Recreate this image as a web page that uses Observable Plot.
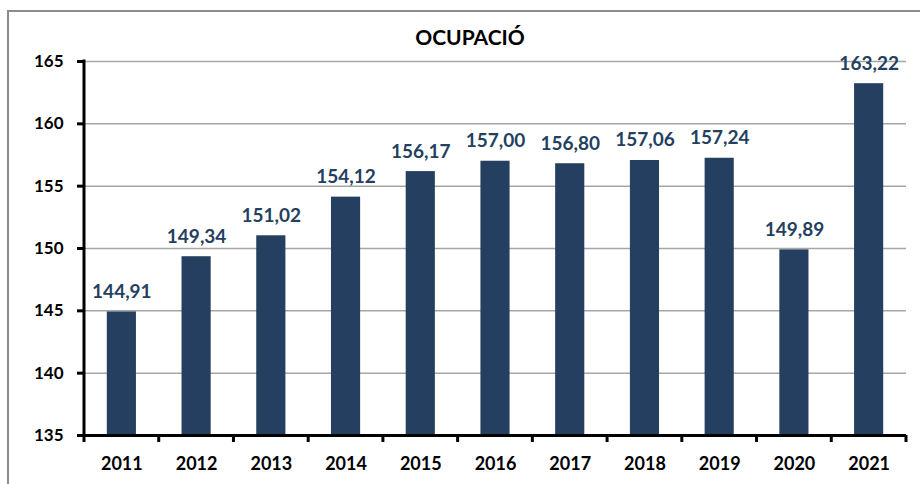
<!DOCTYPE html>
<html><head><meta charset="utf-8">
<script src="https://cdn.jsdelivr.net/npm/d3@7"></script>
<script src="https://cdn.jsdelivr.net/npm/@observablehq/plot@0.6"></script>
<style>
body{margin:0;background:#fff;}
#wrap{position:relative;width:920px;height:484px;overflow:hidden;font-family:Lato,"Noto Sans",sans-serif;}
#frame{position:absolute;left:7px;top:10px;width:1000px;height:1000px;border:2px solid #8c8c8c;}
#title{position:relative;box-sizing:border-box;width:920px;padding-left:20px;padding-top:24px;height:50px;line-height:26px;text-align:center;font-weight:bold;font-size:21px;color:#000;}
#chart{position:relative;}
</style></head>
<body>
<div id="wrap">
  <div id="frame"></div>
  <div id="title">OCUPACIÓ</div>
  <div id="chart"></div>
</div>
<script>
const years = ["2011","2012","2013","2014","2015","2016","2017","2018","2019","2020","2021"];
const values = [144.91,149.34,151.02,154.12,156.17,157.00,156.80,157.06,157.24,149.89,163.22];
const yTicks = [135,140,145,150,155,160,165];

const data = years.map((year, i) => ({year, value: values[i]}));
const navy = "#243F60";
const fmt = v => v.toFixed(2).replace(".", ",");

function axisLines(index, scales, vals, dims) {
  const {x, y} = scales;
  const g = d3.create("svg:g");
  const x0 = dims.marginLeft;
  const yb = y(yTicks[0]), yt = y(yTicks[yTicks.length - 1]);
  g.append("line").attr("x1", x0).attr("x2", x0).attr("y1", yt - 1.5).attr("y2", yb + 1.5)
    .attr("stroke", "#000").attr("stroke-width", 3);
  const bw = typeof x.bandwidth === "function" ? x.bandwidth() : 0;
  const step = x(years[1]) - x(years[0]);
  const centers = years.map(d => x(d) + bw / 2);
  const bounds = centers.map(c => c - step / 2).concat([centers[centers.length - 1] + step / 2]);
  g.selectAll("line.t").data(bounds).join("line").attr("class", "t")
    .attr("x1", d => d).attr("x2", d => d).attr("y1", yb).attr("y2", yb + 7)
    .attr("stroke", "#000").attr("stroke-width", 3);
  return g.node();
}

const chart = Plot.plot({
  width: 920,
  height: 434,
  marginTop: 11,
  marginBottom: 49,
  marginLeft: 84,
  marginRight: 14,
  style: {fontFamily: "Lato, 'Noto Sans', sans-serif", background: "transparent", color: "#000"},
  x: {domain: years, paddingInner: 0.61, paddingOuter: 0.305, round: false},
  y: {domain: [yTicks[0], yTicks[yTicks.length - 1]]},
  marks: [
    Plot.ruleY(yTicks.slice(1), {stroke: "#a6a6a6", strokeWidth: 1.5}),
    Plot.barY(data, {x: "year", y1: yTicks[0], y2: "value", fill: navy}),
    Plot.ruleY([yTicks[0]], {stroke: "#000", strokeWidth: 3}),
    axisLines,
    Plot.axisY({ticks: yTicks, tickSize: 7, tickPadding: 14, strokeWidth: 3, fontSize: 17, fontWeight: "bold", label: null, tickFormat: d => String(d)}),
    Plot.axisX({tickSize: 0, tickPadding: 22, fontSize: 18, fontWeight: "bold", label: null}),
    Plot.text(data, {x: "year", y: "value", text: d => fmt(d.value), lineAnchor: "bottom", dy: -14, fill: navy, fontSize: 19, fontWeight: "bold"})
  ]
});
document.getElementById("chart").appendChild(chart);
</script>
</body></html>
